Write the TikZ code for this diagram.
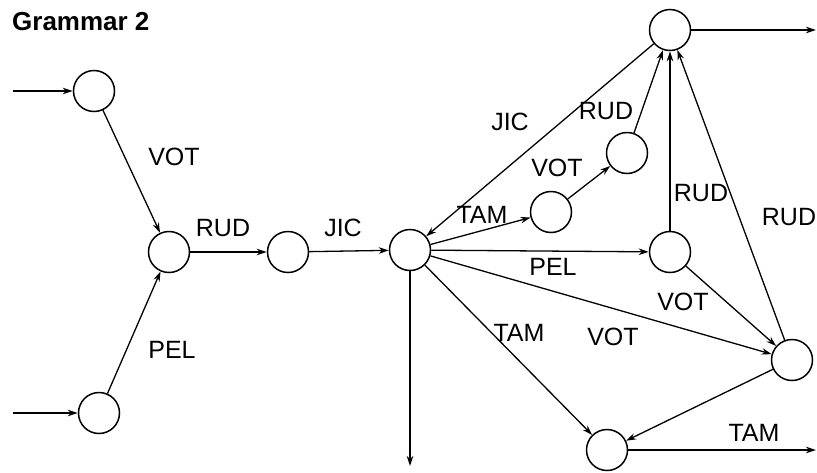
\documentclass[tikz,border=0pt]{standalone}
\usepackage{fontspec}
\setmainfont{Liberation Sans}
\usetikzlibrary{arrows.meta}

\begin{document}
\begin{tikzpicture}
[x=1pt,y=-1pt,
  statedecorate/.style={shape=circle,minimum size=41pt,inner sep=0pt,draw,line width=1.5pt},%
  linedecorate/.style={-{Stealth[length=10pt,width=6.5pt]},line width=1.3pt},
  labeldecorate/.style={font=\fontsize{25}{25}\selectfont,inner sep=0pt}]
\useasboundingbox (0,0) rectangle (817,472);
\node[anchor=west,inner sep=0pt,font=\fontsize{26}{26}\selectfont\bfseries] (title) at (12,22) {Grammar 2};
%% states
\foreach \nodename/\x/\y in {
  a/94/91, b/99/413, c/169/252, d/288/252, e/410/250,
  f/670/30, g/627/153, h/551/212, i/670/252, j/792/360, k/607/450}
{
  \node (\nodename) at (\x,\y) [statedecorate] {};
}
%% free ends
\coordinate (ina) at (13,91);
\coordinate (inb) at (13,413);
\coordinate (outf) at (816,30);
\coordinate (outk) at (816,450);
\coordinate (oute) at (410,466);
%% transitions
\path
\foreach \startnode/\endnode in {ina/a, inb/b, a/c, b/c, c/d, d/e,
  f/e, e/h, h/g, g/f, i/f, j/f, e/i, i/j, e/j, e/k, j/k, f/outf,
  k/outk, e/oute}
{
  (\startnode) edge[linedecorate] (\endnode)
};
%% labels
\foreach \labelname/\x/\y in {
  VOT/174/157, PEL/172/350, RUD/223/228, JIC/343/228,
  JIC/510/122, RUD/606/111, VOT/557/168, TAM/482/215,
  RUD/701/193, RUD/789/217, PEL/553/267, VOT/683/302,
  TAM/519/333, VOT/613/337, TAM/754/433}
{
  \node[labeldecorate] at (\x,\y) {\labelname};
}
\end{tikzpicture}
\end{document}
